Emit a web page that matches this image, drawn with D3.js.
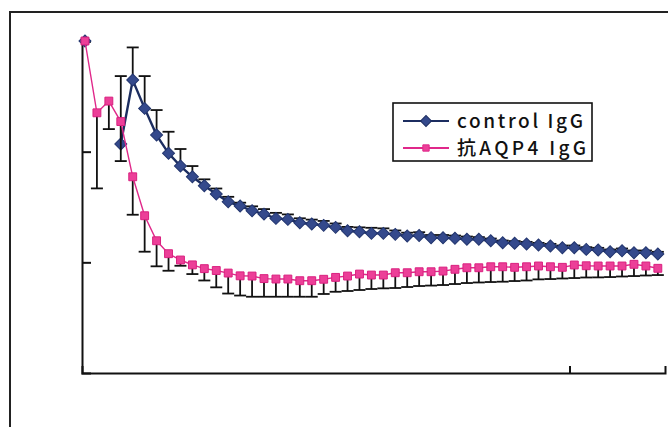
<!DOCTYPE html>
<html>
<head>
<meta charset="utf-8">
<script src="https://cdn.jsdelivr.net/npm/d3@7"></script>
<style>
    html, body { margin: 0; padding: 0; background: #fff; }
    svg { display: block; }
</style>
</head>
<body>
<div id="chart"></div>
<script>
/* Data (y normalised so the first point = 3) */
var seriesNames   = ["control IgG", "抗AQP4 IgG"];

var controlValues = [3.00, null, null, 2.069, 2.647, 2.391, 2.150, 1.985, 1.870, 1.773,
                     1.692, 1.617, 1.547, 1.509, 1.466, 1.436, 1.397, 1.388, 1.358, 1.346,
                     1.334, 1.316, 1.285, 1.276, 1.262, 1.262, 1.253, 1.238, 1.242, 1.222,
                     1.222, 1.217, 1.208, 1.208, 1.195, 1.177, 1.172, 1.165, 1.156, 1.147,
                     1.132, 1.132, 1.117, 1.111, 1.096, 1.105, 1.087, 1.087, 1.075];
var controlError  = [0, 0, 0, 0.614, 0.295, 0.292, 0.226, 0.195, 0.154, 0.097,
                     0.058, 0.050, 0.045, 0.030, 0.040, 0.045, 0.050, 0.045, 0.040, 0.040,
                     0.040, 0.035, 0.035, 0.040, 0.050, 0.045, 0.035, 0.030, 0.030, 0.025,
                     0.025, 0.025, 0.025, 0.020, 0.020, 0.020, 0.020, 0.020, 0.020, 0.020,
                     0.020, 0.020, 0.020, 0.020, 0.020, 0.020, 0.020, 0.020, 0.020];

var aqp4Values    = [3.00, 2.351, 2.457, 2.272, 1.773, 1.421, 1.195, 1.078, 1.021, 0.977,
                     0.943, 0.926, 0.903, 0.878, 0.876, 0.853, 0.849, 0.849, 0.834, 0.834,
                     0.847, 0.864, 0.876, 0.894, 0.885, 0.885, 0.906, 0.906, 0.915, 0.915,
                     0.921, 0.937, 0.951, 0.951, 0.960, 0.960, 0.955, 0.960, 0.967, 0.960,
                     0.955, 0.976, 0.969, 0.967, 0.967, 0.967, 0.982, 0.967, 0.946];
var aqp4Error     = [0, 0.683, 0.253, 0.357, 0.343, 0.325, 0.231, 0.154, 0.052, 0.083,
                     0.107, 0.152, 0.185, 0.178, 0.187, 0.164, 0.160, 0.160, 0.145, 0.145,
                     0.133, 0.130, 0.135, 0.144, 0.126, 0.120, 0.138, 0.129, 0.129, 0.125,
                     0.126, 0.133, 0.138, 0.133, 0.138, 0.135, 0.124, 0.124, 0.121, 0.111,
                     0.101, 0.118, 0.106, 0.103, 0.100, 0.095, 0.106, 0.086, 0.061];

var yTicks        = [1, 2, 3];
var xTicks        = [40.6];

/* Chart Initializer */
var Chart = function (config) {
    return this.__init__(config || {});
};

Chart.prototype = {

    __init__    : function (config) {

        var self = this;
        self.parent      = config.parent      || "#chart",
        self.width       = config.width       || 668,
        self.height      = config.height      || 427,
        self.axisColor   = config.axisColor   || "#111",
        self.errorColor  = config.errorColor  || "#111",
        self.capWidth    = config.capWidth    || 12,

        self.svg = d3.select(self.parent).append("svg")
            .attr("width", self.width)
            .attr("height", self.height)
            .attr("viewBox", "0 0 " + self.width + " " + self.height);

        // Scales
        self.x = d3.scaleLinear().domain([-0.25, 48.6]).range([82, 665]);
        self.y = d3.scaleLinear().domain([0, 3]).range([373, 41]);

        self.drawFrame();
        self.drawAxes();

        // control IgG
        self.drawSeries(controlValues, controlError, +1, {
            line   : "#1c2d60",
            fill   : "#34498c",
            stroke : "#22356e",
            rotate : 45,
            size   : 72,
            width  : 2.4
        });

        // 抗AQP4 IgG
        self.drawSeries(aqp4Values, aqp4Error, -1, {
            line   : "#e0288a",
            fill   : "#ec3f98",
            stroke : "#d9207f",
            rotate : 0,
            size   : 62,
            width  : 1.4
        });

        self.drawLegend();
        return self;
    },

    drawFrame   : function () {
        var self = this;
        // outer border of the scanned sheet (runs off the page right/bottom)
        self.svg.append("path")
            .attr("d", "M10,440 L10,12 L680,12")
            .attr("fill", "none")
            .attr("stroke", "#222")
            .attr("stroke-width", 2);
    },

    drawAxes    : function () {
        var self = this;

        var yAxis = d3.axisRight(self.y)
            .tickValues(yTicks)
            .tickSize(9)
            .tickFormat("");
        var gy = self.svg.append("g")
            .attr("transform", "translate(" + self.x.range()[0] + ",0)")
            .call(yAxis);

        var xAxis = d3.axisTop(self.x)
            .tickValues(xTicks)
            .tickSize(7)
            .tickFormat("");
        var gx = self.svg.append("g")
            .attr("transform", "translate(0," + self.y(0) + ")")
            .call(xAxis);

        [gx, gy].forEach(function (g) {
            g.select(".domain").attr("stroke", self.axisColor).attr("stroke-width", 2);
            g.selectAll(".tick line").attr("stroke", self.axisColor).attr("stroke-width", 2);
        });
    },

    drawSeries  : function (values, errors, dir, style) {
        var self = this;
        var data = values.map(function (v, i) { return {i: i, v: v, e: errors[i]}; });
        var pts  = data.filter(function (d) { return d.v !== null; });
        var g    = self.svg.append("g");

        // Error bars (one side only)
        var bars = g.selectAll(".err").data(pts.filter(function (d) { return d.e > 0; }))
            .enter().append("g").attr("class", "err")
            .attr("stroke", self.errorColor)
            .attr("stroke-width", 1.8);
        bars.append("line")
            .attr("x1", function (d) { return self.x(d.i); })
            .attr("x2", function (d) { return self.x(d.i); })
            .attr("y1", function (d) { return self.y(d.v); })
            .attr("y2", function (d) { return self.y(d.v + dir * d.e); });
        bars.append("line")
            .attr("x1", function (d) { return self.x(d.i) - self.capWidth / 2; })
            .attr("x2", function (d) { return self.x(d.i) + self.capWidth / 2; })
            .attr("y1", function (d) { return self.y(d.v + dir * d.e); })
            .attr("y2", function (d) { return self.y(d.v + dir * d.e); });

        // Line (gaps where no value)
        var line = d3.line()
            .defined(function (d) { return d.v !== null; })
            .x(function (d) { return self.x(d.i); })
            .y(function (d) { return self.y(d.v); });
        g.append("path")
            .datum(data)
            .attr("d", line)
            .attr("fill", "none")
            .attr("stroke", style.line)
            .attr("stroke-width", style.width);

        // Markers
        var symbol = d3.symbol().type(d3.symbolSquare).size(style.size);
        g.selectAll(".mark").data(pts).enter().append("path")
            .attr("class", "mark")
            .attr("d", symbol)
            .attr("transform", function (d) {
                return "translate(" + self.x(d.i) + "," + self.y(d.v) + ") rotate(" + style.rotate + ")";
            })
            .attr("fill", style.fill)
            .attr("stroke", style.stroke)
            .attr("stroke-width", 1);
    },

    drawLegend  : function () {
        var self = this;
        var lg = self.svg.append("g").attr("transform", "translate(393,103)");

        lg.append("rect")
            .attr("width", 199)
            .attr("height", 58)
            .attr("fill", "#fff")
            .attr("stroke", "#111")
            .attr("stroke-width", 1.6);

        var items = [
            {name: seriesNames[0], line: "#1c2d60", fill: "#34498c", rotate: 45, size: 60, w: 126},
            {name: seriesNames[1], line: "#e0288a", fill: "#ec3f98", rotate: 0,  size: 40, w: 129}
        ];

        items.forEach(function (it, k) {
            var cy = 18 + k * 27;
            lg.append("line")
                .attr("x1", 10).attr("x2", 56)
                .attr("y1", cy).attr("y2", cy)
                .attr("stroke", it.line)
                .attr("stroke-width", 1.8);
            lg.append("path")
                .attr("d", d3.symbol().type(d3.symbolSquare).size(it.size))
                .attr("transform", "translate(33," + cy + ") rotate(" + it.rotate + ")")
                .attr("fill", it.fill)
                .attr("stroke", it.line)
                .attr("stroke-width", 1);
            lg.append("text")
                .attr("x", 64)
                .attr("y", cy + 7)
                .attr("font-family", "'Noto Sans CJK JP', 'Noto Sans', sans-serif")
                .attr("font-size", 19)
                .attr("font-weight", 500)
                .attr("fill", "#111")
                .attr("textLength", it.w)
                .attr("lengthAdjust", "spacing")
                .text(it.name);
        });
    }
};

var chart = new Chart({parent: "#chart"});
</script>
</body>
</html>
